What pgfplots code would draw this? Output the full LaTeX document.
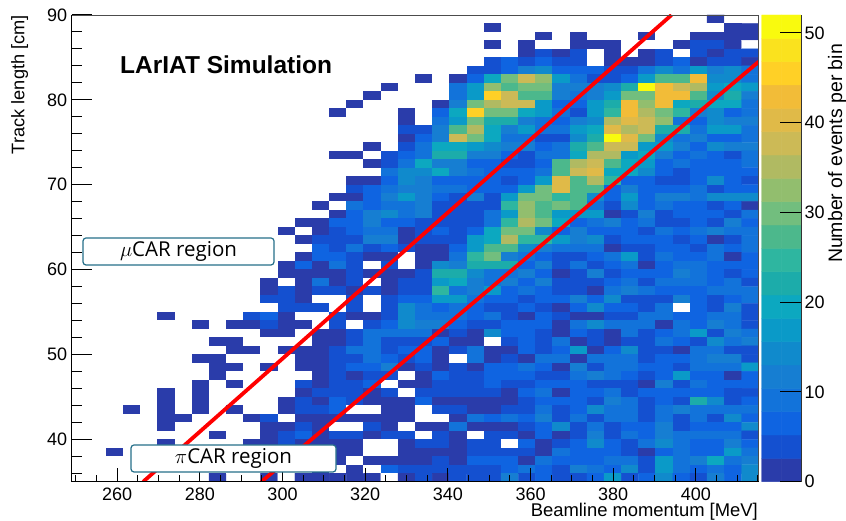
\documentclass[border=0pt]{standalone}
\usepackage{pgfplots}
\pgfplotsset{compat=1.18}
\usepackage{fontspec}
\setmainfont{Liberation Sans}
\newfontfamily\boxfont{Open Sans}
\pgfplotsset{colormap={larbird}{rgb255=(255,255,255) rgb255=(42,60,170) rgb255=(20,80,208) rgb255=(15,100,225) rgb255=(18,115,218) rgb255=(22,126,210) rgb255=(16,138,204) rgb255=(10,154,200) rgb255=(12,168,192) rgb255=(28,172,170) rgb255=(46,182,160) rgb255=(76,184,140) rgb255=(114,190,126) rgb255=(146,190,110) rgb255=(176,186,98) rgb255=(204,186,86) rgb255=(224,186,72) rgb255=(242,188,56) rgb255=(255,208,38) rgb255=(250,226,30) rgb255=(249,250,14)}}
\begin{document}
\begin{tikzpicture}[x=1pt,y=1pt]
\path[use as bounding box] (0,0) rectangle (846,521);
\begin{axis}[at={(71.7pt,39.3pt)},anchor=south west,scale only axis,width=687pt,height=466.7pt,
xmin=249,xmax=415.2,ymin=35,ymax=90,colormap name=larbird,colormap access=piecewise constant,point meta min=-2.5,point meta max=52.1,
axis on top,clip=true,tick align=inside,xtick pos=lower,ytick pos=left,
xtick={260,280,...,400},ytick={40,50,...,90},
minor xtick={250,255,...,415},minor ytick={36,38,...,88},
x tick style={black,line width=1pt,/pgfplots/major tick length=14pt,/pgfplots/minor tick length=7pt},
y tick style={black,line width=1pt,/pgfplots/major tick length=20pt,/pgfplots/minor tick length=10pt},
axis line style={draw=black!70!white,line width=0.8pt},
ticklabel style={font=\fontsize{18}{20}\selectfont},
/pgf/number format/assume math mode=true,
xticklabel style={yshift=-2.5pt},yticklabel style={xshift=-1pt}]
\addplot[matrix plot*,mesh/cols=40,point meta=explicit] table[row sep=\\,header=false,x expr={249+4.155*(\coordindex-40*floor((\coordindex+0.5)/40)+0.5)},y expr={89.5-floor((\coordindex+0.5)/40)},meta index=0]{
0\\0\\0\\0\\0\\0\\0\\0\\0\\0\\0\\0\\0\\0\\0\\0\\0\\0\\0\\0\\0\\0\\0\\0\\0\\0\\0\\0\\0\\0\\0\\0\\0\\0\\0\\0\\0\\1\\0\\0\\
0\\0\\0\\0\\0\\0\\0\\0\\0\\0\\0\\0\\0\\0\\0\\0\\0\\0\\0\\0\\0\\0\\0\\0\\1\\0\\0\\0\\0\\0\\0\\0\\0\\0\\0\\0\\0\\0\\1\\1\\
0\\0\\0\\0\\0\\0\\0\\0\\0\\0\\0\\0\\0\\0\\0\\0\\0\\0\\0\\0\\0\\0\\0\\0\\0\\0\\0\\1\\0\\1\\0\\0\\0\\1\\0\\0\\1\\1\\1\\1\\
0\\0\\0\\0\\0\\0\\0\\0\\0\\0\\0\\0\\0\\0\\0\\0\\0\\0\\0\\0\\0\\0\\0\\0\\1\\0\\1\\0\\0\\1\\1\\1\\0\\0\\0\\1\\4\\4\\1\\0\\
0\\0\\0\\0\\0\\0\\0\\0\\0\\0\\0\\0\\0\\0\\0\\0\\0\\0\\0\\0\\0\\0\\0\\0\\0\\0\\1\\4\\1\\4\\0\\1\\0\\1\\4\\0\\4\\1\\4\\4\\
0\\0\\0\\0\\0\\0\\0\\0\\0\\0\\0\\0\\0\\0\\0\\0\\0\\0\\0\\0\\0\\0\\0\\0\\4\\7\\4\\7\\4\\4\\0\\1\\1\\1\\4\\7\\1\\4\\4\\1\\
0\\0\\0\\0\\0\\0\\0\\0\\0\\0\\0\\0\\0\\0\\0\\0\\0\\0\\0\\0\\0\\0\\0\\4\\4\\7\\12\\15\\7\\7\\7\\4\\4\\9\\15\\9\\17\\12\\15\\9\\
0\\0\\0\\0\\0\\0\\0\\0\\0\\0\\0\\0\\0\\0\\0\\0\\0\\0\\0\\0\\1\\0\\1\\7\\20\\30\\38\\33\\17\\9\\4\\4\\7\\17\\28\\28\\43\\15\\15\\9\\
0\\0\\0\\0\\0\\0\\0\\0\\0\\0\\0\\0\\0\\0\\0\\0\\0\\0\\1\\0\\0\\0\\9\\17\\33\\28\\30\\30\\12\\12\\12\\15\\22\\51\\43\\38\\35\\17\\20\\17\\
0\\0\\0\\0\\0\\0\\0\\0\\0\\0\\0\\0\\0\\0\\0\\0\\0\\1\\0\\0\\0\\0\\9\\17\\46\\38\\28\\28\\12\\9\\12\\17\\30\\30\\43\\43\\28\\15\\22\\12\\
0\\0\\0\\0\\0\\0\\0\\0\\0\\0\\0\\0\\0\\0\\0\\0\\1\\0\\0\\0\\0\\1\\12\\30\\35\\38\\38\\17\\7\\7\\17\\22\\43\\33\\43\\20\\22\\20\\20\\9\\
0\\0\\0\\0\\0\\0\\0\\0\\0\\0\\0\\0\\0\\0\\0\\1\\0\\0\\0\\1\\0\\7\\20\\46\\30\\30\\20\\17\\9\\4\\17\\25\\43\\35\\30\\25\\12\\15\\7\\9\\
0\\0\\0\\0\\0\\0\\0\\0\\0\\0\\0\\0\\0\\0\\0\\0\\0\\0\\0\\1\\0\\9\\17\\30\\22\\22\\12\\9\\7\\12\\15\\35\\41\\38\\33\\9\\7\\15\\12\\12\\
0\\0\\0\\0\\0\\0\\0\\0\\0\\0\\0\\0\\0\\0\\0\\0\\0\\0\\0\\4\\4\\12\\28\\35\\20\\12\\17\\9\\9\\17\\20\\41\\35\\38\\22\\22\\9\\17\\17\\9\\
0\\0\\0\\0\\0\\0\\0\\0\\0\\0\\0\\0\\0\\0\\0\\0\\0\\0\\0\\1\\7\\12\\38\\30\\20\\9\\9\\4\\4\\15\\22\\51\\41\\30\\15\\9\\12\\7\\7\\9\\
0\\0\\0\\0\\0\\0\\0\\0\\0\\0\\0\\0\\0\\0\\0\\0\\0\\1\\0\\4\\9\\20\\20\\17\\15\\12\\12\\7\\9\\22\\28\\38\\38\\17\\17\\12\\7\\15\\12\\12\\
0\\0\\0\\0\\0\\0\\0\\0\\0\\0\\0\\0\\0\\0\\0\\1\\1\\0\\4\\7\\9\\22\\22\\12\\12\\7\\4\\9\\9\\20\\35\\35\\17\\20\\12\\7\\9\\7\\4\\9\\
0\\0\\0\\0\\0\\0\\0\\0\\0\\0\\0\\0\\0\\0\\0\\0\\0\\1\\4\\9\\20\\12\\12\\7\\7\\4\\4\\7\\28\\35\\38\\28\\20\\17\\7\\9\\7\\7\\7\\9\\
0\\0\\0\\0\\0\\0\\0\\0\\0\\0\\0\\0\\0\\0\\0\\0\\0\\0\\9\\15\\15\\20\\12\\9\\7\\7\\7\\9\\28\\38\\41\\20\\20\\15\\7\\4\\7\\7\\7\\7\\
0\\0\\0\\0\\0\\0\\0\\0\\0\\0\\0\\0\\0\\0\\0\\0\\1\\1\\7\\15\\12\\7\\7\\7\\7\\4\\7\\17\\41\\28\\35\\25\\7\\7\\4\\4\\7\\15\\7\\4\\
0\\0\\0\\0\\0\\0\\0\\0\\0\\0\\0\\0\\0\\0\\0\\0\\4\\7\\9\\12\\12\\9\\9\\7\\7\\7\\17\\30\\41\\28\\28\\7\\12\\7\\7\\7\\9\\4\\7\\7\\
0\\0\\0\\0\\0\\0\\0\\0\\0\\0\\0\\0\\0\\0\\0\\1\\1\\7\\12\\17\\12\\7\\4\\12\\4\\17\\30\\30\\25\\28\\15\\7\\17\\7\\12\\12\\9\\15\\15\\15\\
0\\0\\0\\0\\0\\0\\0\\0\\0\\0\\0\\0\\0\\0\\1\\0\\9\\7\\9\\9\\12\\4\\4\\4\\4\\25\\33\\28\\30\\28\\9\\4\\15\\7\\9\\7\\7\\4\\7\\1\\
0\\0\\0\\0\\0\\0\\0\\0\\0\\0\\0\\0\\0\\0\\0\\1\\7\\12\\15\\9\\12\\4\\4\\4\\9\\17\\33\\28\\17\\17\\17\\1\\4\\12\\4\\7\\7\\7\\4\\9\\
0\\0\\0\\0\\0\\0\\0\\0\\0\\0\\0\\0\\0\\1\\1\\7\\7\\12\\7\\7\\4\\4\\4\\4\\9\\25\\35\\30\\20\\7\\9\\12\\7\\9\\4\\4\\7\\4\\12\\7\\
0\\0\\0\\0\\0\\0\\0\\0\\0\\0\\0\\0\\1\\0\\1\\4\\7\\9\\9\\1\\4\\7\\4\\7\\20\\30\\30\\15\\7\\12\\7\\7\\7\\4\\9\\7\\9\\12\\9\\9\\
0\\0\\0\\0\\0\\0\\0\\0\\0\\0\\0\\0\\0\\1\\4\\4\\4\\12\\12\\1\\4\\4\\4\\17\\20\\35\\25\\25\\17\\12\\15\\4\\7\\7\\7\\4\\7\\1\\4\\9\\
0\\0\\0\\0\\0\\0\\0\\0\\0\\0\\0\\0\\0\\0\\7\\4\\9\\4\\7\\4\\1\\1\\7\\17\\28\\28\\15\\12\\9\\9\\9\\1\\4\\4\\7\\7\\4\\9\\7\\9\\
0\\0\\0\\0\\0\\0\\0\\0\\0\\0\\0\\0\\0\\1\\7\\7\\4\\1\\1\\0\\1\\1\\9\\25\\30\\12\\9\\7\\4\\4\\7\\9\\17\\4\\9\\7\\7\\9\\1\\7\\
0\\0\\0\\0\\0\\0\\0\\0\\0\\0\\0\\0\\1\\7\\1\\9\\4\\0\\4\\0\\1\\15\\12\\22\\22\\22\\7\\12\\4\\9\\4\\7\\9\\1\\7\\9\\9\\7\\7\\7\\
0\\0\\0\\0\\0\\0\\0\\0\\0\\0\\0\\0\\1\\1\\1\\1\\4\\1\\1\\1\\4\\22\\22\\15\\9\\9\\12\\7\\1\\4\\12\\4\\7\\7\\7\\12\\9\\7\\4\\7\\
0\\0\\0\\0\\0\\0\\0\\0\\0\\0\\0\\1\\0\\1\\9\\1\\4\\0\\1\\4\\4\\17\\20\\12\\9\\12\\7\\12\\4\\4\\4\\7\\9\\4\\9\\9\\9\\7\\9\\4\\
0\\0\\0\\0\\0\\0\\0\\0\\0\\0\\0\\1\\4\\1\\4\\4\\1\\4\\1\\4\\4\\25\\9\\12\\17\\7\\9\\7\\4\\4\\1\\9\\12\\9\\7\\7\\7\\9\\9\\9\\
0\\0\\0\\0\\0\\0\\0\\0\\0\\0\\0\\4\\4\\1\\0\\0\\4\\0\\4\\7\\7\\17\\17\\9\\7\\7\\4\\7\\7\\12\\7\\15\\4\\4\\4\\12\\7\\4\\7\\9\\
0\\0\\0\\0\\0\\0\\0\\0\\0\\0\\0\\0\\4\\4\\4\\0\\4\\0\\4\\15\\9\\7\\9\\7\\4\\4\\7\\4\\1\\7\\15\\7\\7\\4\\9\\0\\7\\4\\12\\4\\
0\\0\\0\\0\\0\\1\\0\\0\\0\\0\\4\\7\\1\\0\\0\\4\\1\\1\\4\\15\\9\\9\\9\\7\\9\\4\\1\\7\\4\\1\\1\\4\\4\\9\\9\\7\\7\\9\\9\\4\\
0\\0\\0\\0\\0\\0\\0\\1\\0\\1\\1\\4\\1\\1\\0\\4\\0\\4\\7\\15\\12\\12\\7\\4\\4\\7\\7\\7\\1\\9\\15\\9\\9\\9\\1\\9\\7\\12\\9\\4\\
0\\0\\0\\0\\0\\0\\0\\0\\0\\0\\0\\1\\1\\0\\1\\1\\4\\9\\9\\9\\9\\1\\4\\1\\15\\7\\7\\4\\1\\7\\4\\1\\9\\4\\7\\9\\17\\4\\12\\9\\
0\\0\\0\\0\\0\\0\\0\\0\\1\\1\\0\\0\\0\\0\\1\\1\\4\\9\\4\\4\\4\\7\\1\\1\\0\\4\\7\\4\\9\\1\\4\\1\\4\\4\\9\\7\\4\\15\\9\\12\\
0\\0\\0\\0\\0\\0\\0\\0\\0\\1\\1\\0\\1\\1\\1\\4\\9\\9\\4\\7\\7\\1\\4\\9\\1\\1\\7\\4\\7\\17\\1\\7\\15\\4\\4\\1\\9\\9\\4\\4\\
0\\0\\0\\0\\0\\0\\0\\1\\1\\0\\0\\0\\0\\1\\1\\4\\4\\9\\7\\4\\7\\1\\0\\9\\1\\4\\1\\9\\9\\1\\9\\9\\9\\4\\7\\7\\9\\12\\12\\4\\
0\\0\\0\\0\\0\\0\\0\\0\\1\\1\\0\\1\\0\\1\\1\\4\\7\\7\\12\\1\\4\\1\\4\\1\\7\\7\\9\\7\\1\\12\\4\\9\\9\\7\\7\\4\\9\\9\\9\\17\\
0\\0\\0\\0\\0\\0\\0\\0\\1\\0\\0\\0\\0\\0\\1\\4\\1\\4\\4\\0\\1\\7\\4\\4\\7\\7\\7\\4\\4\\9\\12\\9\\7\\4\\7\\17\\7\\7\\1\\7\\
0\\0\\0\\0\\0\\0\\0\\1\\0\\1\\0\\0\\0\\4\\1\\4\\4\\7\\0\\1\\1\\4\\4\\4\\7\\4\\4\\7\\7\\7\\4\\4\\4\\1\\12\\4\\9\\7\\7\\7\\
0\\0\\0\\0\\0\\1\\0\\1\\0\\0\\0\\0\\0\\1\\4\\4\\4\\1\\4\\0\\4\\4\\4\\4\\4\\1\\7\\9\\1\\7\\7\\9\\4\\7\\7\\7\\7\\7\\4\\4\\
0\\0\\0\\0\\0\\1\\0\\1\\0\\0\\0\\0\\1\\4\\1\\7\\4\\1\\1\\1\\7\\1\\1\\1\\1\\1\\4\\7\\7\\7\\4\\12\\9\\4\\7\\4\\22\\15\\4\\7\\
0\\0\\0\\1\\0\\1\\0\\1\\0\\1\\0\\0\\1\\4\\4\\7\\0\\0\\1\\1\\0\\4\\4\\1\\1\\4\\4\\9\\4\\7\\15\\9\\9\\4\\9\\12\\9\\9\\9\\9\\
0\\0\\0\\0\\0\\1\\1\\0\\0\\0\\1\\4\\0\\1\\1\\1\\1\\1\\1\\1\\0\\0\\1\\9\\7\\9\\7\\12\\4\\9\\4\\9\\9\\4\\9\\4\\9\\4\\15\\7\\
0\\0\\0\\0\\0\\1\\0\\0\\0\\0\\0\\1\\1\\4\\1\\0\\0\\4\\1\\0\\1\\1\\9\\1\\1\\1\\4\\7\\15\\4\\9\\4\\7\\7\\12\\4\\7\\7\\7\\15\\
0\\0\\0\\0\\0\\0\\0\\0\\1\\0\\0\\1\\4\\7\\1\\4\\4\\1\\4\\4\\0\\4\\1\\0\\4\\4\\1\\7\\1\\4\\12\\4\\9\\7\\12\\9\\9\\9\\9\\4\\
0\\0\\0\\0\\0\\1\\0\\0\\0\\0\\1\\1\\4\\1\\1\\1\\1\\0\\0\\1\\4\\4\\1\\4\\4\\0\\7\\1\\4\\7\\15\\7\\4\\9\\15\\9\\7\\7\\12\\7\\
0\\0\\1\\0\\0\\0\\0\\0\\0\\0\\0\\0\\1\\1\\1\\1\\1\\0\\0\\1\\1\\1\\1\\4\\4\\4\\4\\1\\9\\7\\7\\7\\4\\1\\7\\9\\7\\7\\17\\9\\
0\\0\\0\\0\\0\\0\\0\\0\\0\\0\\0\\0\\1\\0\\0\\1\\0\\1\\1\\1\\1\\4\\1\\7\\7\\7\\1\\9\\7\\7\\7\\9\\9\\4\\17\\9\\12\\20\\9\\12\\
0\\0\\0\\0\\0\\0\\0\\0\\0\\0\\0\\0\\0\\0\\1\\0\\1\\0\\7\\4\\4\\4\\4\\4\\4\\7\\9\\7\\4\\12\\9\\7\\15\\4\\17\\9\\7\\9\\7\\15\\
0\\0\\0\\0\\0\\0\\0\\0\\1\\0\\0\\1\\0\\1\\1\\1\\1\\1\\0\\1\\4\\1\\4\\4\\4\\12\\4\\7\\4\\4\\7\\17\\4\\7\\15\\7\\4\\12\\7\\15\\
};
\addplot[red,line width=3.8pt,forget plot] coordinates {(266.3,35) (394.1,90)};
\addplot[red,line width=3.8pt,forget plot] coordinates {(294.9,35) (415.2,84.5)};
\end{axis}
\begin{axis}[at={(761.7pt,39.3pt)},anchor=south west,scale only axis,width=39.3pt,height=466.7pt,
xmin=0,xmax=1,ymin=0,ymax=52,colormap name=larbird,colormap access=piecewise constant,point meta min=-2.5,point meta max=52.1,
axis on top,axis x line=none,axis y line=right,axis line style={-,draw=black!80!white,line width=0.8pt},
tick align=inside,ytick={0,10,...,50},
y tick style={black,line width=1pt,/pgfplots/major tick length=21pt},
ticklabel style={font=\fontsize{18}{20}\selectfont},
/pgf/number format/assume math mode=true]
\addplot[matrix plot*,mesh/cols=2,point meta=explicit] table[meta=c]{
x y c
0.25 1.3 1
0.75 1.3 1
0.25 3.9 4
0.75 3.9 4
0.25 6.5 7
0.75 6.5 7
0.25 9.1 9
0.75 9.1 9
0.25 11.7 12
0.75 11.7 12
0.25 14.3 15
0.75 14.3 15
0.25 16.9 17
0.75 16.9 17
0.25 19.5 20
0.75 19.5 20
0.25 22.1 22
0.75 22.1 22
0.25 24.7 25
0.75 24.7 25
0.25 27.3 28
0.75 27.3 28
0.25 29.9 30
0.75 29.9 30
0.25 32.5 33
0.75 32.5 33
0.25 35.1 35
0.75 35.1 35
0.25 37.7 38
0.75 37.7 38
0.25 40.3 41
0.75 40.3 41
0.25 42.9 43
0.75 42.9 43
0.25 45.5 46
0.75 45.5 46
0.25 48.1 48
0.75 48.1 48
0.25 50.7 51
0.75 50.7 51
};
\end{axis}
\draw[black,line width=1.3pt] (71.7,521-481.7) -- (758.7,521-481.7);
\draw[black,line width=1.3pt] (71.7,521-481.7) -- (71.7,521-15);
\node[anchor=south east,inner sep=0pt,font=\fontsize{18.4}{20}\selectfont] at (758,0) {Beamline momentum [MeV]};
\node[rotate=90,anchor=north east,inner sep=0pt,font=\fontsize{18.2}{20}\selectfont] at (11,506) {Track length [cm]};
\node[rotate=90,inner sep=0pt,font=\fontsize{19.5}{22}\selectfont] at (837,521-153.5) {Number of events per bin};
\node[anchor=west,inner sep=0pt,font=\bfseries\fontsize{24.5}{28}\selectfont] at (120,521-65) {LArIAT Simulation};
\node[draw={rgb,255:red,38;green,112;blue,138},fill=white,line width=1.2pt,rounded corners=3pt,minimum width=191pt,minimum height=27pt,inner sep=0pt,font=\boxfont\fontsize{20.5}{22}\selectfont] at (178.5,521-251.5) {$\mu$CAR region};
\node[draw={rgb,255:red,38;green,112;blue,138},fill=white,line width=1.2pt,rounded corners=3pt,minimum width=205pt,minimum height=27pt,inner sep=0pt,font=\boxfont\fontsize{20.5}{22}\selectfont] at (233.5,521-458.5) {$\pi$CAR region};
\end{tikzpicture}
\end{document}
